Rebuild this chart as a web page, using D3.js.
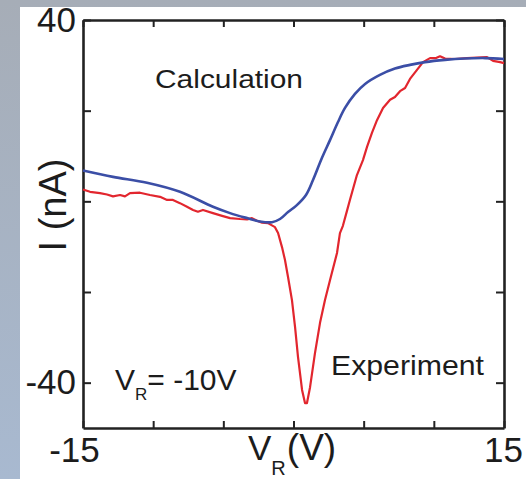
<!DOCTYPE html>
<html>
<head>
<meta charset="utf-8">
<script src="https://cdn.jsdelivr.net/npm/d3@7/dist/d3.min.js"></script>
<style>
  html, body { margin: 0; padding: 0; background: #fff; }
  svg { display: block; }
  text { font-family: "Liberation Sans", Arial, Helvetica, sans-serif; fill: #1c1c1c; }
</style>
</head>
<body>
<svg id="chart" width="526" height="479"></svg>
<script>
// Reverse-bias sweep: gate voltage V_R (V) vs current I (nA)
const xTicks = [-15, -10, -5, 0, 5, 10, 15];
const yTicks = [-40, -20, 0, 20, 40];
const xLabeled = [-15, 15];
const yLabeled = [-40, 40];

// Calculated curve
const calcV = [-15.0, -12.86, -10.44, -8.09, -5.74, -4.52, -3.31, -2.39, -1.53, -0.96, -0.39, 0.18, 0.89, 1.39,
               2.03, 2.60, 3.17, 3.67, 4.38, 5.10, 6.16, 7.23, 8.30, 9.37, 10.80, 12.22, 13.65, 15.0];
const calcI = [6.8, 5.4, 4.1, 2.1, -1.2, -2.6, -3.7, -4.45, -4.6, -3.9, -2.35, -1.0, 1.4, 4.7,
               9.6, 13.5, 17.5, 20.6, 23.7, 25.9, 27.9, 29.3, 30.1, 30.7, 31.2, 31.5, 31.6, 31.4];

// Measured curve
const expV = [-15.0, -14.50, -13.79, -13.29, -12.86, -12.36, -12.01, -11.65, -10.94, -10.23, -9.51, -9.01, -8.59,
              -8.09, -7.59, -7.16, -6.81, -6.45, -5.74, -5.09, -4.52, -3.81, -3.31, -2.96, -2.60, -2.24, -1.82,
              -1.32, -1.10, -0.82, -0.61, -0.39, -0.11, 0.11, 0.32, 0.61, 0.82, 0.96, 1.18, 1.53, 1.89, 2.24,
              2.60, 3.10, 3.31, 3.52, 3.81, 4.02, 4.52, 4.95, 5.24, 5.59, 5.95, 6.38, 6.88, 7.23, 7.59, 7.95,
              8.30, 8.80, 9.23, 9.73, 10.16, 10.44, 10.80, 11.51, 12.36, 13.08, 13.79, 14.22, 14.72, 15.0];
const expI = [2.6, 2.1, 1.8, 1.5, 1.1, 1.4, 1.1, 1.8, 1.9, 1.4, 1.0, 0.3, 0.3,
              -0.4, -1.2, -1.9, -2.3, -1.9, -2.6, -3.2, -3.7, -3.9, -4.0, -3.7, -4.3, -4.7, -4.8,
              -5.7, -7.0, -10.1, -12.9, -16.7, -21.8, -27.7, -34.3, -41.6, -44.5, -44.5, -41.0, -33.5, -26.8, -21.8,
              -17.4, -11.4, -7.0, -5.4, -2.1, 0.3, 5.8, 9.1, 12.0, 15.1, 17.9, 20.6, 22.4, 23.0, 24.3, 25.0,
              27.0, 29.0, 30.7, 31.6, 31.6, 32.0, 31.5, 31.4, 31.6, 31.7, 31.8, 31.0, 30.7, 30.5];

const W = 526, H = 479;
const plot = { left: 83, right: 504, top: 20, bottom: 428 };

const svg = d3.select("#chart");

// Backdrop: grey-blue frame with a white panel
const defs = svg.append("defs");
const grad = defs.append("linearGradient").attr("id", "bg").attr("x1", 0).attr("y1", 0).attr("x2", 0).attr("y2", 1);
grad.append("stop").attr("offset", "0%").attr("stop-color", "#a6adb7");
grad.append("stop").attr("offset", "100%").attr("stop-color", "#a8b9d0");
svg.append("rect").attr("width", W).attr("height", H).attr("fill", "url(#bg)");
svg.append("rect").attr("x", 20).attr("y", 7).attr("width", W - 20).attr("height", H - 7).attr("fill", "#ffffff");

const x = d3.scaleLinear().domain([-15, 15]).range([plot.left, plot.right]);
const y = d3.scaleLinear().domain([-50, 40]).range([plot.bottom, plot.top]);

const fmtX = d => xLabeled.includes(d) ? String(d) : "";
const fmtY = d => yLabeled.includes(d) ? String(d) : "";

function styleAxis(g) {
  g.select(".domain").attr("stroke", "#222").attr("stroke-width", 2.6);
  g.selectAll(".tick line").attr("stroke", "#222").attr("stroke-width", 2);
  g.selectAll(".tick text").style("font-size", "35px").attr("fill", "#1c1c1c");
}

// Bottom axis
const gB = svg.append("g").attr("transform", `translate(0,${plot.bottom})`)
  .call(d3.axisBottom(x).tickValues(xTicks).tickSizeInner(-7).tickSizeOuter(0).tickPadding(9).tickFormat(fmtX))
  .call(styleAxis);
gB.selectAll(".tick text").filter(d => d === -15).attr("dx", -9);
gB.selectAll(".tick text").filter(d => d === 15).attr("dx", -1);

// Top axis
svg.append("g").attr("transform", `translate(0,${plot.top})`)
  .call(d3.axisTop(x).tickValues(xTicks).tickSizeInner(-7).tickSizeOuter(0).tickFormat(""))
  .call(styleAxis);

// Left axis
svg.append("g").attr("transform", `translate(${plot.left},0)`)
  .call(d3.axisLeft(y).tickValues(yTicks).tickSizeInner(-8).tickSizeOuter(0).tickPadding(7).tickFormat(fmtY))
  .call(styleAxis);

// Right axis
svg.append("g").attr("transform", `translate(${plot.right},0)`)
  .call(d3.axisRight(y).tickValues(yTicks).tickSizeInner(-8).tickSizeOuter(0).tickFormat(""))
  .call(styleAxis);

// Curves
const line = d3.line().x(d => x(d[0])).y(d => y(d[1])).curve(d3.curveCatmullRom.alpha(0.5));
const calc = calcV.map((v, i) => [v, calcI[i]]);
const exp = expV.map((v, i) => [v, expI[i]]);

svg.append("path").datum(exp).attr("d", d3.line().x(d => x(d[0])).y(d => y(d[1])))
  .attr("fill", "none").attr("stroke", "#e2262e").attr("stroke-width", 2.2).attr("stroke-linejoin", "round");
svg.append("path").datum(calc).attr("d", line)
  .attr("fill", "none").attr("stroke", "#3b4ea6").attr("stroke-width", 2.6).attr("stroke-linejoin", "round");

// Annotations
svg.append("text").attr("x", 155).attr("y", 88).style("font-size", "25px")
  .attr("textLength", 148).attr("lengthAdjust", "spacingAndGlyphs").text("Calculation");
svg.append("text").attr("x", 331).attr("y", 375).style("font-size", "28px")
  .attr("textLength", 153).attr("lengthAdjust", "spacingAndGlyphs").text("Experiment");

const vr = svg.append("text").attr("x", 115).attr("y", 390).style("font-size", "30px");
vr.append("tspan").text("V");
vr.append("tspan").attr("dy", 10).style("font-size", "17px").text("R");
vr.append("tspan").attr("dy", -10).text("= -10V");

// Axis titles
const xt = svg.append("text").attr("x", 248).attr("y", 460).style("font-size", "35px");
xt.append("tspan").text("V");
xt.append("tspan").attr("dy", 15).style("font-size", "20px").text("R");
xt.append("tspan").attr("dy", -15).attr("dx", 1).style("font-size", "37px").text("(V)");

svg.append("text").attr("transform", "translate(66,205) rotate(-90)").attr("text-anchor", "middle")
  .style("font-size", "38px").text("I (nA)");
</script>
</body>
</html>
